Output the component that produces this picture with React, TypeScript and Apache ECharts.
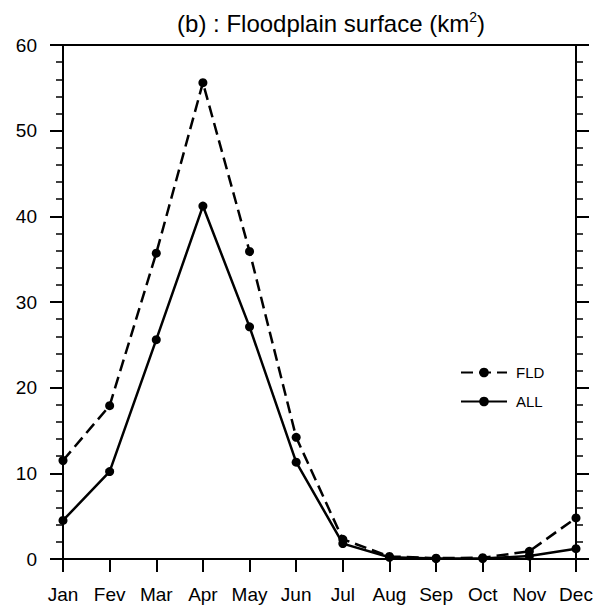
import React, { useEffect, useRef } from "react";
import * as echarts from "echarts";

const months = ["Jan", "Fev", "Mar", "Apr", "May", "Jun", "Jul", "Aug", "Sep", "Oct", "Nov", "Dec"];
const fldValues = [11.5, 17.9, 35.7, 55.6, 35.9, 14.2, 2.3, 0.3, 0.1, 0.15, 0.9, 4.8];
const allValues = [4.5, 10.2, 25.6, 41.2, 27.1, 11.3, 1.8, 0.2, 0.05, 0.05, 0.35, 1.2];
const seriesNames = ["FLD", "ALL"];
const titleText = "(b) : Floodplain surface (km{sup|2})";

const FONT = "'Liberation Sans', Arial, Helvetica, sans-serif";

export default function App() {
  const ref = useRef<HTMLDivElement>(null);
  useEffect(() => {
    if (!ref.current) return;
    const chart = echarts.init(ref.current, null, { renderer: "svg" });
    const axisLine = { show: true, onZero: false, lineStyle: { color: "#000", width: 2 } };
    const yAxisCommon = {
      type: "value",
      min: 0,
      max: 60,
      interval: 10,
      axisLine,
      axisTick: { show: true, inside: false, length: 13, lineStyle: { color: "#000", width: 2 } },
      minorTick: { show: true, splitNumber: 5, length: 7, lineStyle: { color: "#000", width: 1.5 } },
      splitLine: { show: false },
    };
    chart.setOption({
      animation: false,
      backgroundColor: "#fff",
      title: {
        text: titleText,
        left: 326,
        top: 5,
        textAlign: "center",
        textStyle: {
          fontFamily: FONT,
          fontSize: 24,
          fontWeight: "normal",
          color: "#000",
          rich: {
            sup: { fontSize: 14, verticalAlign: "bottom", padding: [0, 0, 12, 0], fontFamily: FONT, color: "#000" },
          },
        },
      },
      legend: {
        orient: "vertical",
        left: 455,
        top: 360,
        itemWidth: 46,
        itemHeight: 12,
        itemGap: 14,
        data: seriesNames,
        textStyle: { fontFamily: FONT, fontSize: 15, color: "#000", padding: [0, 0, 0, 4] },
      },
      grid: { left: 63, right: 23, top: 45, bottom: 48, containLabel: false },
      xAxis: [
        {
          type: "category",
          data: months,
          boundaryGap: false,
          position: "bottom",
          axisLine,
          axisTick: { show: true, inside: false, length: 13, alignWithLabel: true, lineStyle: { color: "#000", width: 2 } },
          axisLabel: { color: "#000", fontFamily: FONT, fontSize: 19, margin: 26, interval: 0 },
          splitLine: { show: false },
        },
        {
          type: "category",
          data: months,
          boundaryGap: false,
          position: "top",
          axisLine,
          axisTick: { show: false },
          axisLabel: { show: false },
          splitLine: { show: false },
        },
      ],
      yAxis: [
        {
          ...yAxisCommon,
          position: "left",
          axisLabel: { color: "#000", fontFamily: FONT, fontSize: 19, margin: 26 },
        },
        {
          ...yAxisCommon,
          position: "right",
          axisLabel: { show: false },
        },
      ],
      series: [
        {
          name: seriesNames[0],
          type: "line",
          data: fldValues,
          symbol: "circle",
          symbolSize: 9,
          itemStyle: { color: "#000" },
          lineStyle: { color: "#000", width: 2.5, type: [12, 6] },
        },
        {
          name: seriesNames[1],
          type: "line",
          data: allValues,
          symbol: "circle",
          symbolSize: 9,
          itemStyle: { color: "#000" },
          lineStyle: { color: "#000", width: 2.5, type: "solid" },
        },
      ],
    });
    return () => chart.dispose();
  }, []);
  return <div ref={ref} style={{ width: 599, height: 607, position: "absolute", left: 0, top: 0 }} />;
}
